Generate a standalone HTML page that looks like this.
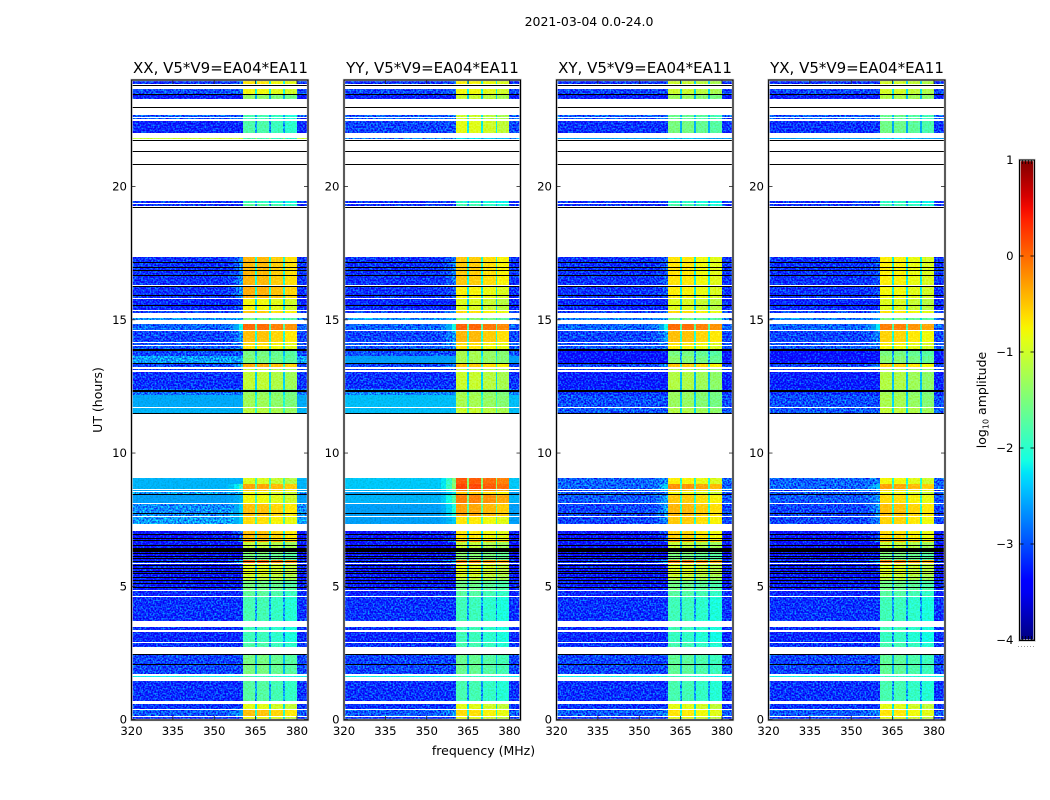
<!DOCTYPE html>
<html lang="en">
<head>
<meta charset="utf-8">
<title>2021-03-04 0.0-24.0</title>
<style>
html,body{margin:0;padding:0;background:#fff;width:1050px;height:800px;overflow:hidden}
svg{display:block}
text{font-family:"DejaVu Sans","Liberation Sans",sans-serif;fill:#000}
.tick-label{font-size:11.7px}
.panel-title{font-size:15px}
</style>
</head>
<body>
<svg id="figure" xmlns="http://www.w3.org/2000/svg" width="1050" height="800" viewBox="0 0 1050 800">
  <defs>
    <filter id="grain-strong" filterUnits="userSpaceOnUse" x="0" y="0" width="1050" height="800" color-interpolation-filters="sRGB">
      <feTurbulence type="fractalNoise" baseFrequency="0.6" numOctaves="1" seed="7" result="t"/>
      <feColorMatrix in="t" type="matrix" values="0 0 0 0 .5  2.5 0 0 0 -.75  .8 0 0 0 .1  0 0 0 0 1" result="n"/>
      <feComposite in="SourceGraphic" in2="n" operator="arithmetic" k1="0" k2="1" k3=".8" k4="-.36" result="c"/>
      <feComposite in="c" in2="SourceAlpha" operator="in"/>
    </filter>
    <filter id="grain-weak" filterUnits="userSpaceOnUse" x="0" y="0" width="1050" height="800" color-interpolation-filters="sRGB">
      <feTurbulence type="fractalNoise" baseFrequency="0.6" numOctaves="1" seed="11" result="t"/>
      <feColorMatrix in="t" type="matrix" values="0 0 0 0 .5  .8 0 0 0 .1  2.5 0 0 0 -.75  0 0 0 0 1" result="n"/>
      <feComposite in="SourceGraphic" in2="n" operator="arithmetic" k1="0" k2="1" k3=".28" k4="-.14" result="c"/>
      <feComposite in="c" in2="SourceAlpha" operator="in"/>
    </filter>
    <linearGradient id="jet-gradient" x1="0" y1="1" x2="0" y2="0"></linearGradient>
  </defs>

  <text x="589" y="26" text-anchor="middle" font-size="12.5">2021-03-04 0.0-24.0</text>
  <text x="483.5" y="755" text-anchor="middle" font-size="12.5">frequency (MHz)</text>
  <text transform="translate(102,400) rotate(-90)" text-anchor="middle" font-size="12.5">UT (hours)</text>

  <text class="panel-title" x="220.5" y="73" text-anchor="middle">XX, V5*V9=EA04*EA11</text>
  <text class="panel-title" x="432.5" y="73" text-anchor="middle">YY, V5*V9=EA04*EA11</text>
  <text class="panel-title" x="645" y="73" text-anchor="middle">XY, V5*V9=EA04*EA11</text>
  <text class="panel-title" x="857" y="73" text-anchor="middle">YX, V5*V9=EA04*EA11</text>

  <g id="panels"></g>

  <g id="colorbar">
    <rect x="1019.5" y="160" width="15" height="480.5" fill="url(#jet-gradient)"/>
    <rect x="1019.5" y="160" width="15" height="480.5" fill="none" stroke="#c8c8c8" stroke-width="2.4"/>
    <rect x="1019.5" y="160" width="15" height="480.5" fill="none" stroke="#000" stroke-width="1"/>
    <line x1="1018" y1="646.5" x2="1035" y2="646.5" stroke="#999" stroke-width="1" stroke-dasharray="1 2"/>
    <text transform="translate(986,400) rotate(-90)" text-anchor="middle" font-size="12.5">log<tspan font-size="8" dy="2.5">10</tspan><tspan dy="-2.5"> amplitude</tspan></text>
  </g>
</svg>

<script>
// Heatmap bands: observed UT ranges in hours (gaps between ranges are flagged white).
const timeLo = [0,.13,.41,.71,1.59,1.71,2.73,2.92,3.36,3.70,
  4.64,4.87,5.20,5.43,5.88,5.99,6.25,6.44,6.68,6.74,7.34,7.64,
  8.12,8.45,8.58,8.65,8.85,11.50,11.74,12.16,12.40,13.10,
  13.23,13.38,13.65,13.91,14.07,14.17,14.63,15.00,15.26,15.38,
  15.83,16.30,19.26,19.40,21.79,22.01,22.52,22.60,23.30,23.48,23.86];
const timeHi = [.08,.36,.58,1.45,1.65,2.46,2.87,3.30,3.46,4.60,
  4.83,5.20,5.43,5.83,5.99,6.25,6.44,6.68,6.74,7.08,7.60,8.08,
  8.42,8.54,8.62,8.85,9.07,11.70,12.16,12.40,13.06,13.17,
  13.34,13.65,13.91,14.03,14.13,14.59,14.85,15.07,15.34,15.79,
  16.26,17.36,19.36,19.47,21.84,22.48,22.57,22.67,23.48,23.67,24];

// log10 amplitude of the off-band background, per polarisation and band.
const bgXX = [-3.2,-3.0,-3.2,-3.2,-2.2,-3.1,-3.2,-3.25,-3.2,-3.2,
  -3.25,-3.3,-3.35,-3.3,-3.2,-3.35,-3.5,-3.35,-3.3,-3.35,-2.65,-2.75,
  -2.6,-2.65,-2.55,-2.5,-2.5,-2.5,-2.55,-2.9,-3.2,-3.1,
  -3.1,-2.65,-3.1,-3.0,-3.05,-3.1,-2.95,-2.7,-3.1,-3.25,
  -3.2,-3.2,-3.2,-3.2,-1.05,-3.25,-3.0,-3.0,-3.3,-3.05,-3.2];
const bgYY = [-3.2,-3.0,-3.2,-3.2,-2.2,-3.1,-3.2,-3.25,-3.2,-3.2,
  -3.25,-3.3,-3.35,-3.3,-3.2,-3.35,-3.5,-3.35,-3.3,-3.35,-2.6,-2.6,
  -2.5,-2.6,-2.5,-2.4,-2.4,-2.45,-2.45,-2.8,-3.2,-3.1,
  -3.1,-2.6,-3.05,-3.0,-3.0,-3.1,-2.95,-2.7,-3.1,-3.25,
  -3.2,-3.2,-3.2,-3.2,-2.8,-3.1,-3.0,-3.0,-3.3,-3.1,-3.2];
const bgXY = [-3.2,-3.0,-3.2,-3.2,-2.2,-3.1,-3.2,-3.25,-3.2,-3.2,
  -3.25,-3.3,-3.35,-3.3,-3.2,-3.35,-3.5,-3.35,-3.3,-3.35,-3.1,-3.1,
  -3.0,-3.0,-3.0,-2.95,-2.95,-3.0,-3.05,-3.2,-3.3,-3.1,
  -3.1,-3.4,-3.4,-3.0,-3.05,-3.1,-2.95,-2.8,-3.1,-3.25,
  -3.2,-3.2,-3.2,-3.2,-2.6,-3.2,-3.0,-3.0,-3.3,-3.1,-3.2];
const bgYX = [-3.2,-3.0,-3.2,-3.2,-2.2,-3.1,-3.2,-3.25,-3.2,-3.2,
  -3.25,-3.3,-3.35,-3.3,-3.2,-3.35,-3.5,-3.35,-3.3,-3.35,-3.1,-3.1,
  -3.0,-3.0,-3.0,-2.95,-2.95,-3.0,-3.05,-3.2,-3.3,-3.1,
  -3.1,-3.4,-3.4,-3.0,-3.05,-3.1,-2.95,-2.8,-3.1,-3.25,
  -3.2,-3.2,-3.2,-3.2,-2.6,-3.2,-3.0,-3.0,-3.3,-3.1,-3.2];

// log10 amplitude inside the four 360-380 MHz spectral blocks.
const blockXX = [-0.9,-0.55,-0.95,-1.8,-2.0,-1.6,-1.85,-1.95,-1.95,-1.9,
  -1.75,-1.6,-1.1,-0.95,-0.1,-1.6,-1.5,-1.15,-0.3,-0.55,-0.7,-0.55,
  -0.85,-0.9,-0.6,-0.4,-1.0,-1.2,-1.35,-1.4,-1.15,-1.1,
  -0.45,-1.55,-1.6,-0.75,-0.7,-0.55,-0.1,-1.6,-0.6,-0.85,
  -0.45,-0.5,-1.8,-2.0,-1.9,-1.85,-1.9,-1.9,-1.45,-0.85,-0.75];
const blockYY = [-0.95,-0.7,-0.95,-1.9,-2.0,-1.7,-1.9,-1.95,-1.95,-1.95,
  -1.8,-1.65,-1.1,-0.95,-0.25,-1.5,-1.5,-1.15,-0.35,-0.75,-0.75,-0.4,
  -0.2,-0.6,-0.2,0.1,0.0,-1.1,-1.3,-1.35,-1.1,-1.1,
  -0.6,-1.3,-1.3,-0.75,-0.7,-0.5,-0.05,-1.5,-0.7,-1.0,
  -0.8,-0.6,-1.9,-2.05,-2.3,-0.95,-1.1,-1.1,-1.1,-0.85,-0.8];
const blockXY = [-0.95,-0.75,-0.95,-1.9,-2.05,-1.75,-1.9,-2.0,-1.95,-1.95,
  -1.8,-1.65,-1.15,-1.0,-0.2,-1.6,-1.5,-1.15,-0.4,-0.65,-0.6,-0.5,
  -0.6,-0.9,-0.6,-0.3,-0.8,-1.25,-1.4,-1.4,-1.25,-1.2,
  -0.6,-1.5,-1.6,-0.8,-0.75,-0.55,-0.1,-1.6,-0.7,-1.0,
  -0.8,-0.75,-1.9,-2.05,-2.4,-1.6,-1.7,-1.7,-1.4,-1.1,-1.1];
const blockYX = [-0.95,-0.75,-0.95,-1.9,-2.05,-1.75,-1.9,-2.0,-1.95,-1.95,
  -1.8,-1.65,-1.15,-1.0,-0.25,-1.6,-1.5,-1.15,-0.45,-0.7,-0.65,-0.55,
  -0.7,-0.9,-0.7,-0.4,-0.85,-1.15,-1.3,-1.35,-1.25,-1.2,
  -0.65,-1.5,-1.6,-0.85,-0.8,-0.65,-0.2,-1.6,-0.75,-1.0,
  -0.85,-0.8,-1.9,-2.05,-2.4,-1.65,-1.7,-1.7,-1.25,-1.05,-1.05];

// Frequency channels (MHz): background, rising shoulder, four blocks with narrow dips, tail.
const freqEdges = [320,355,357,359,360.5,364.7,365.5,369.8,370.5,375,375.6,379.9,384];
const freqBlockMix = [0,0,0,0,1,.42,1,.42,1,.42,1,0];
const freqBlockTrim = [0,0,0,0,.08,0,.06,0,-.04,0,-.14,0];
const freqShoulder = [0,.15,.45,.9,0,0,0,0,0,0,0,0];

// UT (hours) of fully black, zero-amplitude integrations.
const blackRows = [2.08,2.45,4.98,5.12,5.24,5.36,5.49,5.59,5.70,5.80,5.96,
  6.05,6.15,6.25,6.33,6.37,6.40,6.44,6.55,6.72,6.83,6.97,
  7.76,8.47,11.49,12.34,12.38,13.39,13.88,13.90,15.57,15.92,16.28,16.68,16.86,16.99,17.18,
  19.25,20.85,21.34,21.75,22.99,23.49,23.81];

const panelKeys = ['xx','yy','xy','yx'];
const panelBackground = [bgXX,bgYY,bgXY,bgYX];
const panelBlocks = [blockXX,blockYY,blockXY,blockYX];

const xTicks = [320,335,350,365,380];
const yTicks = [0,5,10,15,20];
const colorTicks = [1,0,-1,-2,-3,-4];
const colorMinorFractions = [.2,.4,.6,.8];

// Axis geometry.
const panelLeft = [131.5,344,556.5,768.5];
const panelWidth = 176.5;
const plotTop = 80;
const plotBottom = 720;
const freqMin = 320, freqMax = 384;
const timeMin = 0, timeMax = 24;
const colorMin = -4, colorMax = 1;
const barTop = 160, barBottom = 640, barLeft = 1019.5, barRight = 1034.5;

const NS = 'http://www.w3.org/2000/svg';
function make(tag, attrs, parent){
  const el = document.createElementNS(NS, tag);
  for (const k in attrs) el.setAttribute(k, attrs[k]);
  if (parent) parent.appendChild(el);
  return el;
}
function xScale(p, f){ return panelLeft[p] + (f - freqMin) / (freqMax - freqMin) * panelWidth; }
function yScale(t){ return plotBottom - 0.5 - (t - timeMin) / (timeMax - timeMin) * (plotBottom - plotTop - 0.5); }
function cScale(v){ return barBottom - (v - colorMin) / (colorMax - colorMin) * (barBottom - barTop); }

function ramp(t, pts){
  if (t <= pts[0][0]) return pts[0][1];
  for (let i = 1; i < pts.length; i++) {
    if (t <= pts[i][0]) {
      const a = pts[i-1], b = pts[i];
      return a[1] + (b[1] - a[1]) * (t - a[0]) / (b[0] - a[0]);
    }
  }
  return pts[pts.length-1][1];
}
const jetR = [[0,0],[.35,0],[.66,1],[.89,1],[1,.5]];
const jetG = [[0,0],[.125,0],[.375,1],[.64,1],[.91,0],[1,0]];
const jetB = [[0,.5],[.11,1],[.34,1],[.65,0],[1,0]];
function jetFraction(t){
  t = Math.max(0, Math.min(1, t));
  return 'rgb(' + Math.round(255*ramp(t,jetR)) + ',' + Math.round(255*ramp(t,jetG)) + ',' + Math.round(255*ramp(t,jetB)) + ')';
}
function jet(v){ return jetFraction((v - colorMin) / (colorMax - colorMin)); }

function cellValue(bg, block, c){
  const shoulder = block > -1 ? (block + 1) * freqShoulder[c] : 0;
  return bg + shoulder + freqBlockMix[c] * (block - bg) + freqBlockTrim[c];
}

const panelsRoot = document.getElementById('panels');

panelKeys.forEach(function(key, p){
  const panel = make('g', {}, panelsRoot);
  
  

  const noisy = make('g', {filter:'url(#grain-strong)', 'shape-rendering':'crispEdges'}, panel);
  
  
  const smooth = make('g', {filter:'url(#grain-weak)', 'shape-rendering':'crispEdges'}, panel);
  
  

  timeLo.forEach(function(lo, b){
    const yA = Math.round(yScale(timeHi[b]));
    const yB = Math.round(yScale(lo));
    for (let c = 0; c < freqEdges.length - 1; c++) {
      const xA = Math.round(xScale(p, freqEdges[c]));
      const xB = Math.round(xScale(p, freqEdges[c+1]));
      const v = cellValue(panelBackground[p][b], panelBlocks[p][b], c);
      const cell = make('rect', {x:xA, y:yA, width:Math.max(xB-xA,1), height:Math.max(yB-yA,1), fill:jet(v)}, v < -2.6 ? noisy : smooth);
      
      
    }
  });

  const rows = make('g', {'shape-rendering':'crispEdges'}, panel);
  
  
  blackRows.forEach(function(t){
    const row = make('rect', {x:Math.round(xScale(p,freqMin)), y:Math.round(yScale(t)), width:Math.round(panelWidth), height:1, fill:'#000'}, rows);
    
    
  });

  const left = xScale(p, freqMin), right = xScale(p, freqMax);

  const halo = make('rect', {x:left, y:plotTop, width:right-left, height:plotBottom-plotTop, fill:'none', stroke:'#c8c8c8', 'stroke-width':2.4}, panel);
  
  
  const frame = make('rect', {x:left, y:plotTop, width:right-left, height:plotBottom-plotTop, fill:'none', stroke:'#000', 'stroke-width':1.1}, panel);
  
  

  xTicks.forEach(function(f){
    const x = xScale(p, f);
    const bottomTick = make('line', {x1:x, x2:x, y1:plotBottom, y2:plotBottom-4, stroke:'#222', 'stroke-width':.8}, panel);
    
    
    const topTick = make('line', {x1:x, x2:x, y1:plotTop, y2:plotTop+4, stroke:'#222', 'stroke-width':.8}, panel);
    
    
    const label = make('text', {x:x, y:plotBottom+15, 'text-anchor':'middle', 'class':'tick-label'}, panel);
    label.textContent = String(f);
    
    
  });

  yTicks.forEach(function(t){
    const y = yScale(t);
    const leftTick = make('line', {x1:left, x2:left+4, y1:y, y2:y, stroke:'#222', 'stroke-width':.8}, panel);
    
    
    const rightTick = make('line', {x1:right, x2:right-4, y1:y, y2:y, stroke:'#222', 'stroke-width':.8}, panel);
    
    
    const label = make('text', {x:left-4.5, y:y+4, 'text-anchor':'end', 'class':'tick-label'}, panel);
    label.textContent = String(t);
    
    
  });
});

// Colorbar gradient, ticks and labels.
const gradient = document.getElementById('jet-gradient');
for (let i = 0; i <= 40; i++) {
  make('stop', {offset:(i/40), 'stop-color':jetFraction(i/40)}, gradient);
}
const colorbar = document.getElementById('colorbar');
colorTicks.forEach(function(v){
  const y = cScale(v);
  const tickL = make('line', {x1:barLeft, x2:barLeft+4, y1:y, y2:y, stroke:'#000', 'stroke-width':.8}, colorbar);
  
  
  const tickR = make('line', {x1:barRight, x2:barRight-4, y1:y, y2:y, stroke:'#000', 'stroke-width':.8}, colorbar);
  
  
  const label = make('text', {x:barLeft-6, y:y+4, 'text-anchor':'end', 'class':'tick-label'}, colorbar);
  label.textContent = v < 0 ? '\u2212' + Math.abs(v) : String(v);
  
  
});
colorMinorFractions.forEach(function(f){
  const x = barLeft + f * (barRight - barLeft);
  const topMinor = make('line', {x1:x, x2:x, y1:barTop, y2:barTop+4, stroke:'#000', 'stroke-width':.7}, colorbar);
  
  
  const bottomMinor = make('line', {x1:x, x2:x, y1:barBottom, y2:barBottom-4, stroke:'#000', 'stroke-width':.7}, colorbar);
  
  
});
</script>
</body>
</html>
